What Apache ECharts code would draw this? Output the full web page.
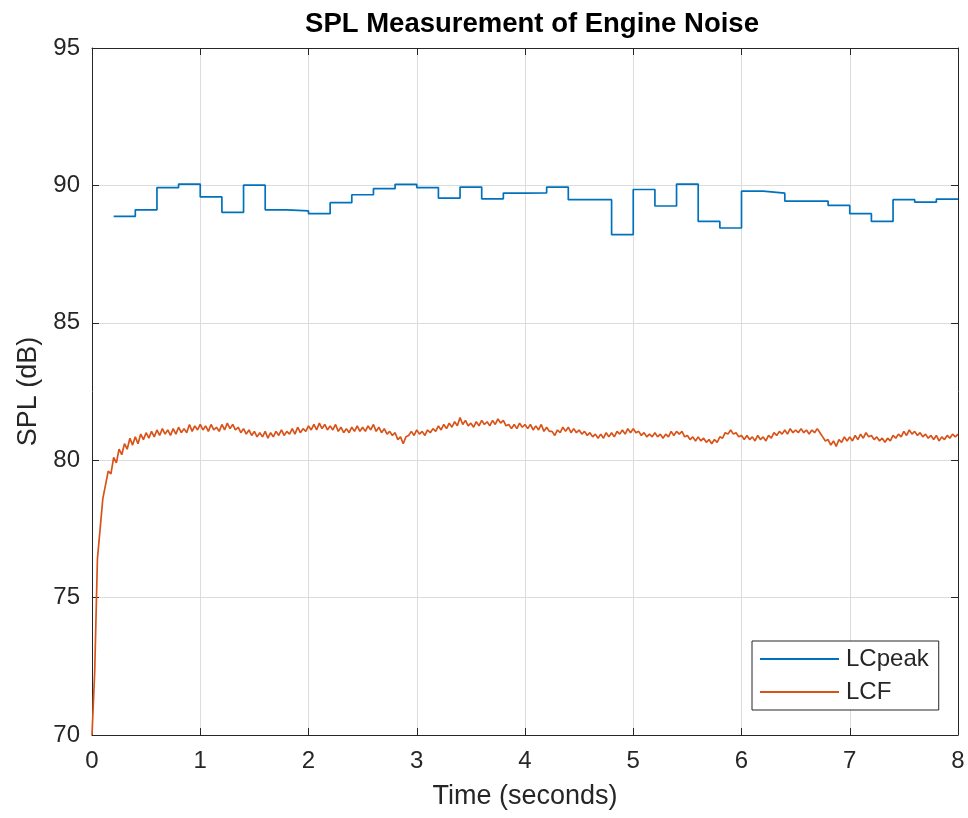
<!DOCTYPE html>
<html>
<head>
<meta charset="utf-8">
<script src="https://cdn.jsdelivr.net/npm/echarts@6/dist/echarts.min.js"></script>
<style>
html,body{margin:0;padding:0;background:#fff;}
#chart{width:968px;height:818px;}
</style>
</head>
<body>
<div id="chart"></div>
<script>
// ---- data ----
var titleText = 'SPL Measurement of Engine Noise';
var xLabel = 'Time (seconds)';
var yLabel = 'SPL (dB)';
var seriesNames = ['LCpeak', 'LCF'];
var xTicks = [0, 1, 2, 3, 4, 5, 6, 7, 8];
var yTicks = [70, 75, 80, 85, 90, 95];

// LCpeak: step values, each holds from its start time for 0.2 s
var peakTimes = [0.2,0.4,0.6,0.8,1.0,1.2,1.4,1.6,1.8,2.0,2.2,2.4,2.6,2.8,3.0,3.2,3.4,3.6,3.8,4.0,
                 4.2,4.4,4.6,4.8,5.0,5.2,5.4,5.6,5.8,6.0,6.2,6.4,6.6,6.8,7.0,7.2,7.4,7.6,7.8,8.0];
var peakValues = [88.87,89.11,89.92,90.05,89.58,89.02,90.01,89.11,89.07,88.97,
                  89.37,89.66,89.88,90.04,89.92,89.54,89.94,89.51,89.72,89.73,
                  89.94,89.48,89.48,88.21,89.85,89.25,90.05,88.69,88.45,89.79,
                  89.72,89.43,89.43,89.27,88.97,88.69,89.48,89.39,89.50,89.50];

// LCF: sampled every 0.025 s from 0 to 8 s
var lcfStep = 0.025;
var lcfValues = [
 70.0,72.3,76.4,77.5,78.6,79.1,79.6,79.5,80.1,79.9,80.4,80.2,80.6,80.4,80.8,80.55,80.85,80.6,80.95,80.75,
 81.0,80.8,81.05,80.85,81.1,80.9,81.15,80.95,81.1,80.9,81.15,80.95,81.2,81.0,81.15,81.0,81.3,81.05,81.25,81.1,
 81.3,81.1,81.25,81.05,81.3,81.1,81.2,81.05,81.3,81.1,81.35,81.15,81.3,81.1,81.2,81.0,81.15,80.95,81.1,80.9,
 81.05,80.85,81.0,80.85,81.05,80.8,81.0,80.85,81.05,80.9,81.1,80.9,81.05,80.95,81.15,80.95,81.2,81.0,81.15,81.05,
 81.25,81.1,81.3,81.1,81.35,81.15,81.3,81.1,81.25,81.1,81.3,81.05,81.2,81.0,81.15,81.0,81.2,81.05,81.25,81.05,
 81.2,81.05,81.25,81.1,81.3,81.05,81.2,81.0,81.15,80.95,81.05,80.9,81.0,80.75,80.85,80.6,80.85,80.9,81.05,80.9,
 81.1,80.95,81.05,80.9,81.1,81.0,81.15,81.05,81.25,81.1,81.3,81.15,81.35,81.2,81.4,81.25,81.55,81.3,81.45,81.25,
 81.35,81.2,81.4,81.25,81.45,81.3,81.4,81.25,81.45,81.3,81.5,81.35,81.45,81.25,81.3,81.15,81.3,81.15,81.35,81.2,
 81.3,81.15,81.3,81.1,81.25,81.1,81.3,81.05,81.2,81.05,81.05,80.9,81.1,81.0,81.2,81.05,81.2,81.0,81.15,81.0,
 81.1,80.95,81.05,80.9,81.0,80.85,80.95,80.8,80.95,80.8,81.0,80.85,81.0,80.85,81.05,80.95,81.1,80.95,81.15,81.0,
 81.15,81.0,81.05,80.9,81.0,80.85,80.95,80.85,81.0,80.85,80.95,80.8,80.95,80.85,81.05,80.9,81.05,80.95,81.05,80.85,
 80.9,80.75,80.85,80.7,80.85,80.7,80.8,80.65,80.75,80.6,80.75,80.65,80.85,80.8,81.0,80.95,81.1,80.95,81.0,80.85,
 80.9,80.75,80.9,80.75,80.85,80.7,80.9,80.75,80.85,80.7,80.9,80.8,81.0,80.9,81.05,80.95,81.1,80.95,81.15,81.0,
 81.1,81.0,81.15,81.0,81.1,80.95,81.1,81.0,81.15,81.0,80.85,80.7,80.75,80.55,80.7,80.5,80.75,80.65,80.85,80.7,
 80.85,80.7,80.9,80.75,80.95,80.8,81.0,80.85,80.9,80.75,80.85,80.7,80.8,80.65,80.8,80.7,80.9,80.8,80.95,80.85,
 81.05,80.9,81.1,80.95,81.05,80.9,81.0,80.85,80.95,80.8,80.9,80.75,80.9,80.7,80.85,80.75,80.9,80.8,80.95,80.85,
 80.95
];

// ---- build ----
var peakData = peakTimes.map(function (t, i) { return [t, peakValues[i]]; });
var lcfData = lcfValues.map(function (v, i) { return [+(i * lcfStep).toFixed(3), v]; });

var FONT = '"Liberation Sans", Arial, Helvetica, sans-serif';
var TXT = '#262626';
var AX = '#262626';

var chart = echarts.init(document.getElementById('chart'), null, {renderer: 'canvas'});

function xAx(pos, labels) {
  return {
    type: 'value', position: pos, min: xTicks[0], max: xTicks[xTicks.length - 1], interval: 1,
    name: labels ? xLabel : '', nameLocation: 'middle', nameGap: 48,
    nameTextStyle: {fontFamily: FONT, fontSize: 27, color: TXT},
    axisLine: {show: true, onZero: false, lineStyle: {color: AX, width: 1}},
    axisTick: {show: true, inside: true, length: 7, lineStyle: {color: AX}},
    axisLabel: {show: labels, fontFamily: FONT, fontSize: 24, color: TXT, margin: 14},
    splitLine: {show: labels, lineStyle: {color: '#dcdcdc', width: 1}}
  };
}
function yAx(pos, labels) {
  return {
    type: 'value', position: pos, min: yTicks[0], max: yTicks[yTicks.length - 1], interval: 5,
    name: labels ? yLabel : '', nameLocation: 'middle', nameGap: 49,
    nameTextStyle: {fontFamily: FONT, fontSize: 27, color: TXT},
    axisLine: {show: true, onZero: false, lineStyle: {color: AX, width: 1}},
    axisTick: {show: true, inside: true, length: 7, lineStyle: {color: AX}},
    axisLabel: {show: labels, fontFamily: FONT, fontSize: 24, color: TXT, margin: 12, padding: [8, 0, 0, 0]},
    splitLine: {show: labels, lineStyle: {color: '#dcdcdc', width: 1}}
  };
}

chart.setOption({
  animation: false,
  backgroundColor: '#fff',
  title: {
    text: titleText, left: 527, top: 5, textAlign: 'center',
    textStyle: {fontFamily: FONT, fontSize: 27.5, fontWeight: 'bold', color: '#000'}
  },
  grid: {left: 92, right: 10, top: 48, bottom: 83, containLabel: false},
  xAxis: [xAx('bottom', true), xAx('top', false)],
  yAxis: [yAx('left', true), yAx('right', false)],
  legend: {
    orient: 'vertical', left: 752, top: 641,
    padding: [6, 10, 6, 8],
    itemGap: 9,
    itemWidth: 79, itemHeight: 2,
    backgroundColor: '#fff',
    borderColor: '#262626', borderWidth: 1, borderRadius: 0,
    textStyle: {fontFamily: FONT, fontSize: 24, color: TXT, padding: [0, 0, 0, 2]},
    data: [
      {name: seriesNames[0], icon: 'rect'},
      {name: seriesNames[1], icon: 'rect'}
    ]
  },
  series: [
    {
      name: seriesNames[0], type: 'line', step: 'end', data: peakData,
      showSymbol: false, symbol: 'none',
      lineStyle: {color: '#0072BD', width: 1.7}, itemStyle: {color: '#0072BD'}
    },
    {
      name: seriesNames[1], type: 'line', data: lcfData,
      showSymbol: false, symbol: 'none',
      lineStyle: {color: '#D95319', width: 1.7}, itemStyle: {color: '#D95319'}
    }
  ]
});
</script>
</body>
</html>
